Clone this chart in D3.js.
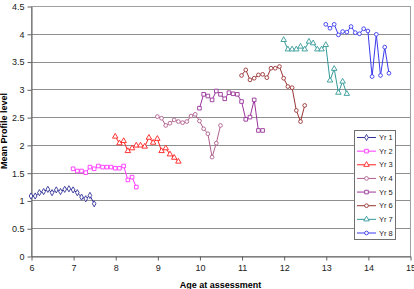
<!DOCTYPE html>
<html>
<head>
<meta charset="utf-8">
<script src="https://cdn.jsdelivr.net/npm/d3@7"></script>
<style>
  body { margin: 0; background: #fff; }
  svg { font-family: "Liberation Sans", Arial, sans-serif; display: block; }
</style>
</head>
<body>
<svg class="profileChart"></svg>
<script>
// data
const seriesNames = ['Yr 1', 'Yr 2', 'Yr 3', 'Yr 4', 'Yr 5', 'Yr 6', 'Yr 7', 'Yr 8']
const startAges = [6, 7, 8, 9, 10, 11, 12, 13]
const ageSteps = [0, 0.1, 0.2, 0.3, 0.4, 0.5, 0.6, 0.7, 0.8, 0.9, 1.0, 1.1, 1.2, 1.3, 1.4, 1.5]

const yr1 = [1.08, 1.08, 1.14, 1.16, 1.20, 1.14, 1.19, 1.16, 1.20, 1.21, 1.19, 1.14, 1.06, 1.03, 1.09, 0.94]
const yr2 = [1.57, 1.53, 1.53, 1.50, 1.60, 1.57, 1.62, 1.60, 1.60, 1.60, 1.58, 1.58, 1.62, 1.37, 1.42, 1.24]
const yr3 = [2.15, 2.03, 2.07, 1.89, 1.94, 1.99, 1.99, 1.97, 2.13, 2.04, 2.11, 1.89, 1.94, 1.83, 1.77, 1.70]
const yr4 = [2.51, 2.48, 2.35, 2.39, 2.45, 2.42, 2.40, 2.42, 2.52, 2.55, 2.43, 2.29, 2.20, 1.78, 2.03, 2.35]
const yr5 = [2.66, 2.91, 2.88, 2.81, 2.97, 2.91, 2.83, 2.94, 2.92, 2.91, 2.78, 2.46, 2.50, 2.81, 2.26, 2.26]
const yr6 = [3.25, 3.35, 3.17, 3.20, 3.26, 3.27, 3.21, 3.38, 3.38, 3.41, 3.20, 3.05, 3.03, 2.62, 2.42, 2.71]
const yr7 = [3.89, 3.72, 3.72, 3.72, 3.77, 3.72, 3.86, 3.83, 3.72, 3.72, 3.80, 3.16, 3.37, 2.94, 3.14, 2.92]
const yr8 = [4.17, 4.10, 4.17, 3.98, 4.04, 4.03, 4.13, 4.02, 4.00, 4.09, 4.05, 3.23, 3.99, 3.25, 3.76, 3.29]

const xTicks = [6, 7, 8, 9, 10, 11, 12, 13, 14, 15]
const yTicks = [0, 0.5, 1, 1.5, 2, 2.5, 3, 3.5, 4, 4.5]

// look of each series
const styles = [
  { color: '#333399', symbol: d3.symbolDiamond, size: 11 },
  { color: '#ff33ff', symbol: d3.symbolSquare, size: 13 },
  { color: '#ff2020', symbol: d3.symbolTriangle, size: 13 },
  { color: '#b0608e', symbol: d3.symbolCircle, size: 11 },
  { color: '#993399', symbol: d3.symbolSquare, size: 13 },
  { color: '#993333', symbol: d3.symbolCircle, size: 11 },
  { color: '#339999', symbol: d3.symbolTriangle, size: 13 },
  { color: '#3a3aee', symbol: d3.symbolCircle, size: 11 }
]

const allValues = [yr1, yr2, yr3, yr4, yr5, yr6, yr7, yr8]
const series = seriesNames.map((name, i) => ({
  name,
  style: styles[i],
  points: allValues[i].map((v, j) => ({ age: startAges[i] + ageSteps[j], v }))
}))

const width = 414
const height = 289
const plot = { left: 31, top: 6, right: 410, bottom: 256 }

const svg = d3.select('svg.profileChart').attr('width', width).attr('height', height)

const xScale = d3.scaleLinear().domain([6, 15]).range([plot.left, plot.right])
const yScale = d3.scaleLinear().domain([0, 4.5]).range([plot.bottom, plot.top])

// grid
svg.append('g')
  .selectAll('line')
  .data(yTicks.filter(t => t > 0))
  .enter()
  .append('line')
  .attr('x1', plot.left)
  .attr('x2', plot.right)
  .attr('y1', d => Math.round(yScale(d)) + 0.5)
  .attr('y2', d => Math.round(yScale(d)) + 0.5)
  .style('stroke', '#8f8f8f')
  .style('stroke-width', 1)

// plot area border
svg.append('rect')
  .attr('x', plot.left + 0.5)
  .attr('y', plot.top + 0.5)
  .attr('width', plot.right - plot.left)
  .attr('height', plot.bottom - plot.top)
  .style('fill', 'none')
  .style('stroke', '#a0a0a0')

// x axis
const xAxis = svg.append('g')
  .attr('transform', `translate(0.5, ${plot.bottom + 0.5})`)
  .call(d3.axisBottom(xScale).tickValues(xTicks).tickSize(4).tickSizeOuter(0).tickPadding(4))
xAxis.select('.domain').style('stroke', '#606060')
xAxis.selectAll('.tick line').style('stroke', '#606060')
xAxis.selectAll('text').style('font-size', '9px').style('fill', '#222')

// y axis
const yAxis = svg.append('g')
  .attr('transform', `translate(${plot.left + 0.5}, 0.5)`)
  .call(d3.axisLeft(yScale).tickValues(yTicks).tickFormat(d3.format('~g'))
    .tickSize(4).tickSizeOuter(0).tickPadding(3))
yAxis.select('.domain').style('stroke', '#606060')
yAxis.selectAll('.tick line').style('stroke', '#606060')
yAxis.selectAll('text').style('font-size', '9px').style('fill', '#222')

// axis titles
svg.append('text')
  .attr('x', (plot.left + plot.right) / 2)
  .attr('y', 288)
  .attr('text-anchor', 'middle')
  .style('font-size', '9px')
  .style('font-weight', 'bold')
  .text('Age at assessment')

svg.append('text')
  .attr('transform', `translate(7, ${(plot.top + plot.bottom) / 2}) rotate(-90)`)
  .attr('text-anchor', 'middle')
  .style('font-size', '9px')
  .style('font-weight', 'bold')
  .text('Mean Profile level')

// lines and markers
const line = d3.line()
  .x(d => xScale(d.age))
  .y(d => yScale(d.v))

const groups = svg.selectAll('g.series')
  .data(series)
  .enter()
  .append('g')
  .attr('class', 'series')

groups.append('path')
  .attr('d', d => line(d.points))
  .style('fill', 'none')
  .style('stroke', d => d.style.color)
  .style('stroke-width', 1)

groups.each(function (s) {
  d3.select(this).selectAll('path.marker')
    .data(s.points)
    .enter()
    .append('path')
    .attr('class', 'marker')
    .attr('transform', d => `translate(${xScale(d.age)}, ${yScale(d.v)})`)
    .attr('d', d3.symbol().type(s.style.symbol).size(s.style.size))
    .style('fill', '#fff')
    .style('stroke', s.style.color)
    .style('stroke-width', 0.9)
})

// legend
const legendBox = { x: 354, y: 130, w: 41, h: 109 }
const legend = svg.append('g')

legend.append('rect')
  .attr('x', legendBox.x + 0.5)
  .attr('y', legendBox.y + 0.5)
  .attr('width', legendBox.w)
  .attr('height', legendBox.h)
  .style('fill', '#fff')
  .style('stroke', '#707070')

const rowY = d3.scalePoint()
  .domain(seriesNames)
  .range([137.5, 233])

const items = legend.selectAll('g.item')
  .data(series)
  .enter()
  .append('g')
  .attr('class', 'item')
  .attr('transform', d => `translate(0, ${rowY(d.name)})`)

items.append('line')
  .attr('x1', 357)
  .attr('x2', 376)
  .style('stroke', d => d.style.color)

items.append('path')
  .attr('transform', 'translate(366.5, 0)')
  .attr('d', d => d3.symbol().type(d.style.symbol).size(d.style.size)())
  .style('fill', '#fff')
  .style('stroke', d => d.style.color)
  .style('stroke-width', 0.9)

items.append('text')
  .attr('x', 379)
  .attr('dy', '0.35em')
  .style('font-size', '7.5px')
  .style('fill', '#222')
  .text(d => d.name)
</script>
</body>
</html>
